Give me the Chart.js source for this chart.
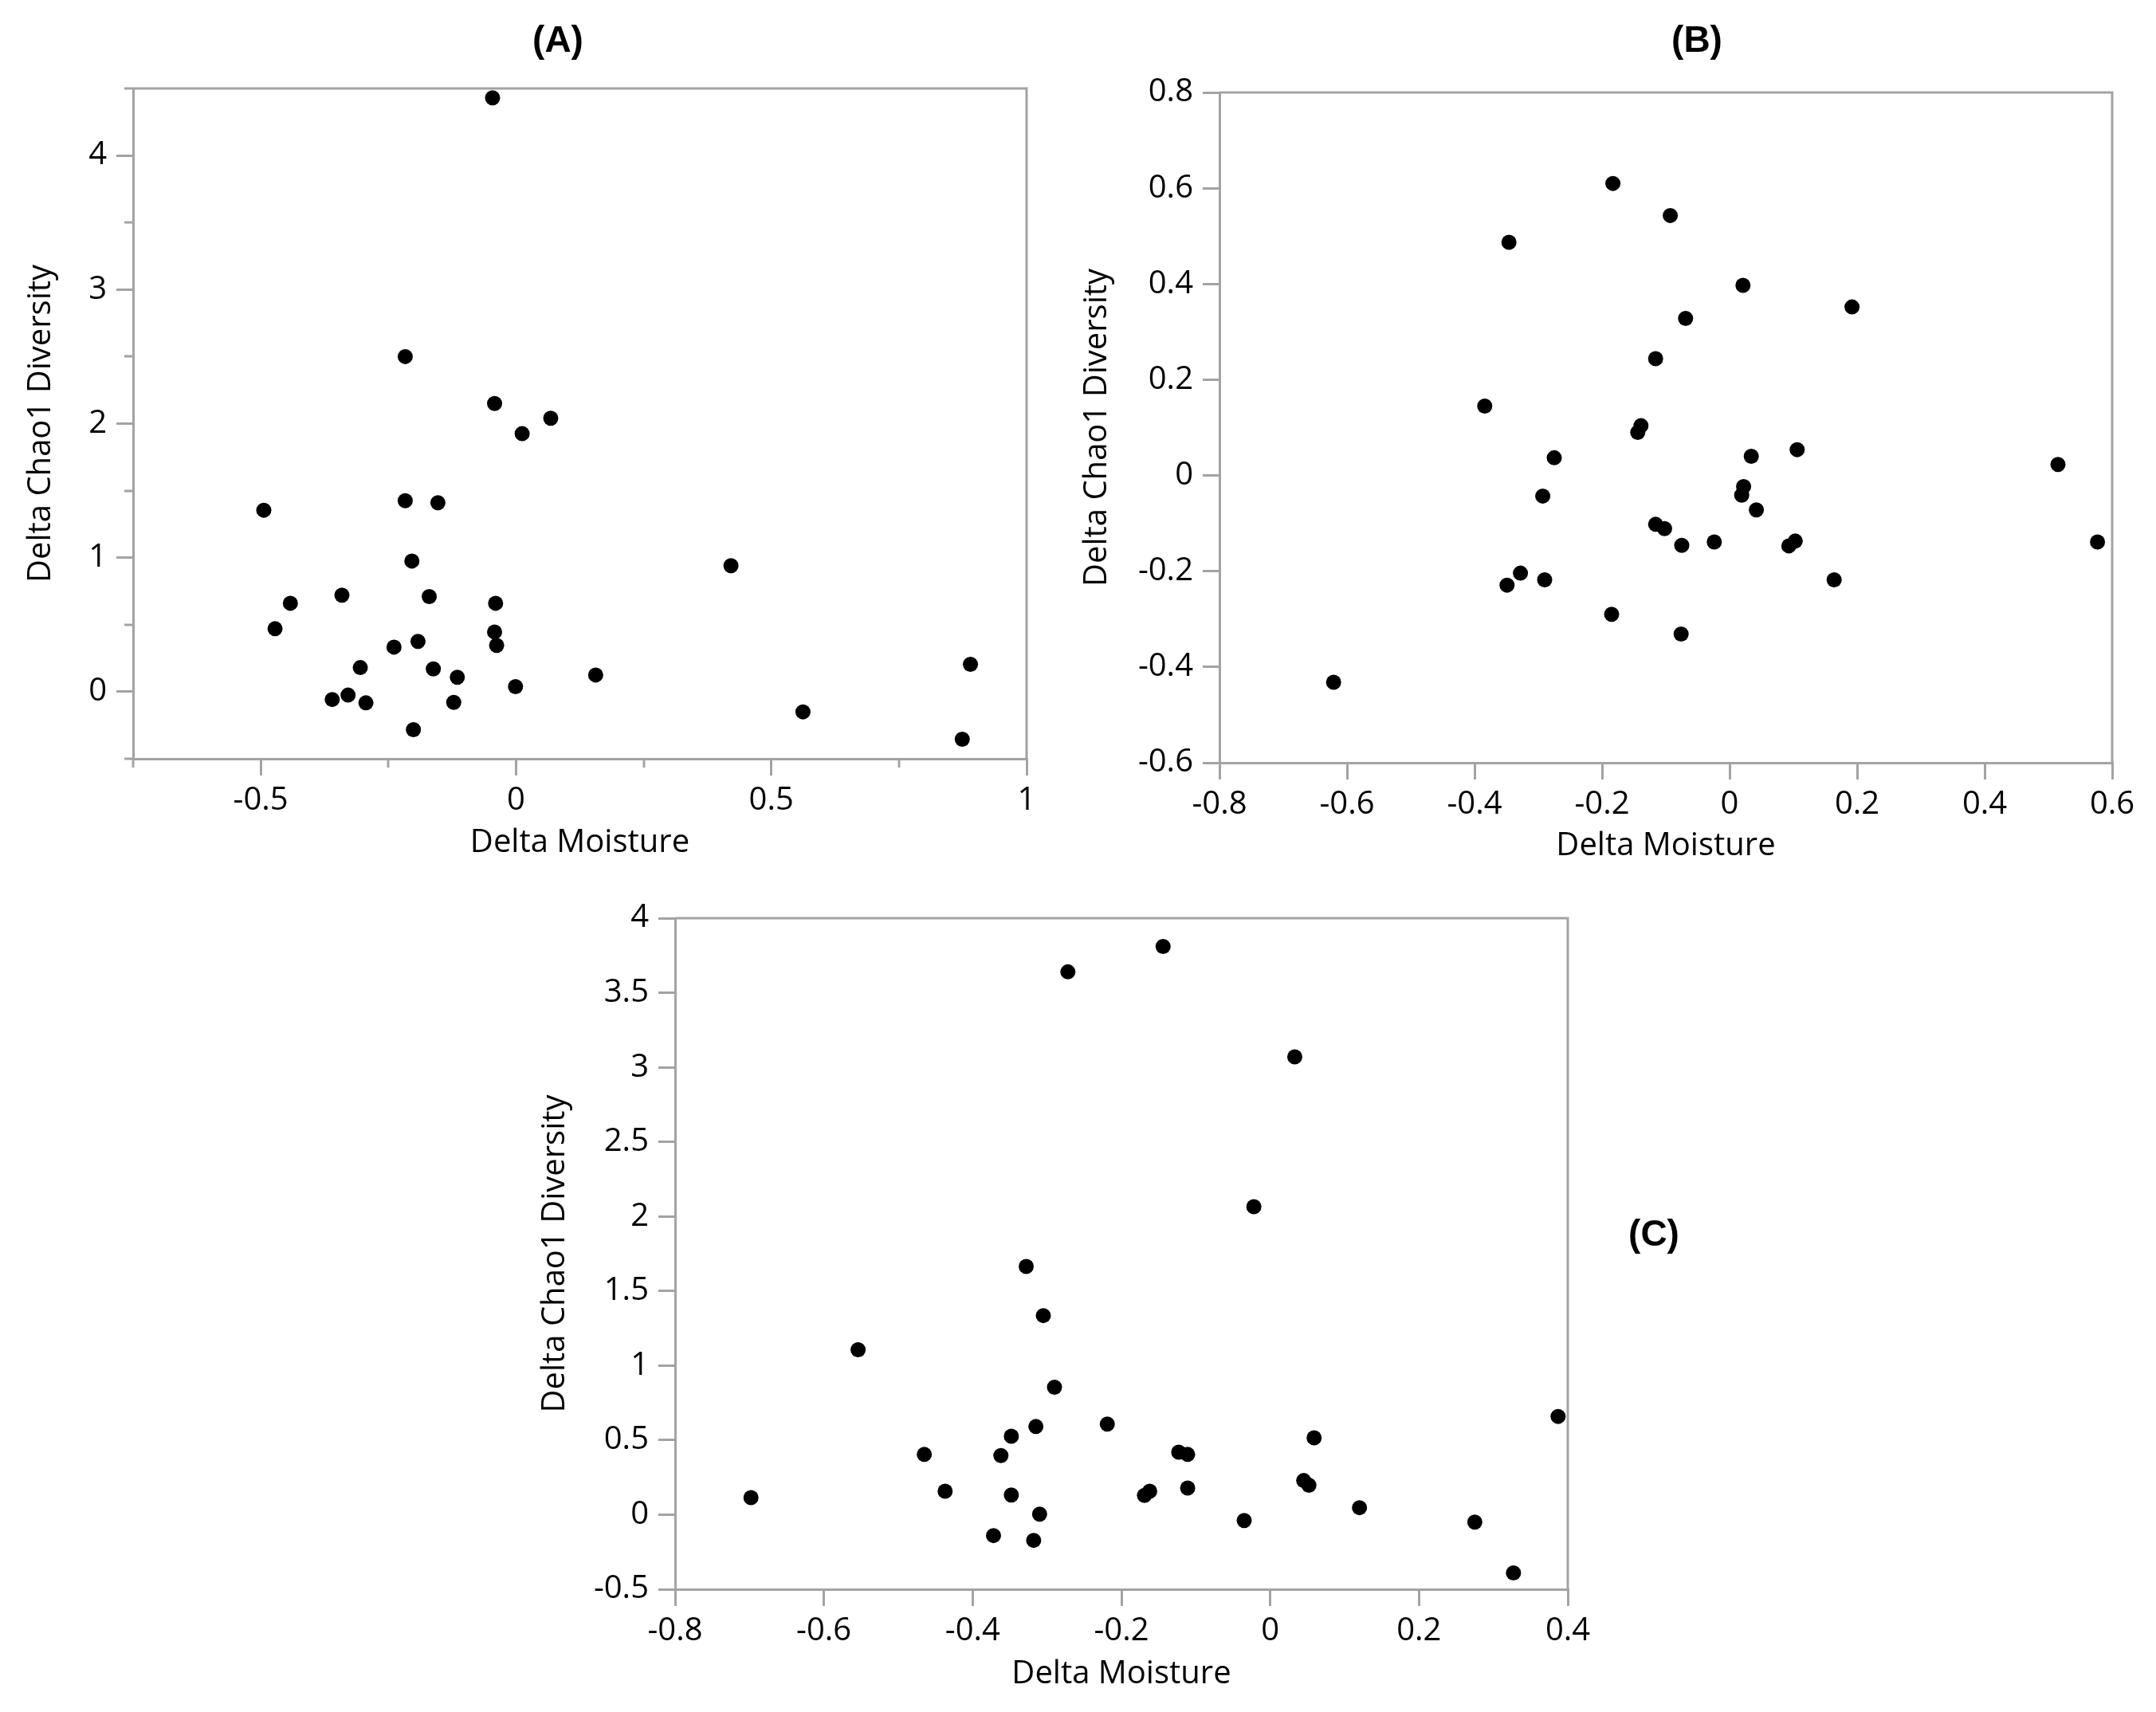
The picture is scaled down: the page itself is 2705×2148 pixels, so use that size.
<!DOCTYPE html>
<html>
<head>
<meta charset="utf-8">
<script src="https://cdn.jsdelivr.net/npm/chart.js@4.4.1/dist/chart.umd.min.js"></script>
<style>
  html, body { margin: 0; padding: 0; background: #fff; overflow: hidden; }
  #page { position: relative; width: 2705px; height: 2148px; }
  .panel { position: absolute; }
</style>
</head>
<body>
<div id="page">
  <canvas id="chartA" class="panel" style="left:0px;top:0px"></canvas>
  <canvas id="chartB" class="panel" style="left:1350px;top:0px"></canvas>
  <canvas id="chartC" class="panel" style="left:650px;top:1100px"></canvas>
</div>
<script>
// ---- data ----
const aMoisture = [-0.046, -0.217, -0.042, 0.068, 0.012, -0.494, -0.217, -0.153, -0.204, 0.421, -0.341, -0.170, -0.442, -0.040, -0.472, -0.042, -0.192, -0.038, -0.239, -0.305, -0.162, -0.115, 0.156, -0.001, -0.360, -0.329, -0.294, -0.122, -0.201, 0.562, 0.890, 0.874];
const aChao1 = [4.43, 2.50, 2.15, 2.04, 1.925, 1.354, 1.425, 1.41, 0.975, 0.94, 0.72, 0.71, 0.66, 0.66, 0.47, 0.446, 0.375, 0.346, 0.333, 0.18, 0.17, 0.108, 0.125, 0.0375, -0.058, -0.025, -0.083, -0.079, -0.283, -0.15, 0.204, -0.354];

const bMoisture = [-0.183, -0.093, -0.346, 0.021, 0.192, -0.069, -0.116, -0.384, -0.139, -0.144, -0.275, 0.106, 0.034, 0.515, 0.022, 0.019, -0.293, 0.042, -0.116, -0.102, -0.075, -0.024, 0.093, 0.103, 0.577, -0.328, -0.349, -0.290, 0.164, -0.185, -0.076, -0.621];
const bChao1 = [0.610, 0.543, 0.487, 0.397, 0.352, 0.328, 0.244, 0.145, 0.104, 0.090, 0.037, 0.054, 0.040, 0.023, -0.023, -0.041, -0.043, -0.072, -0.102, -0.111, -0.146, -0.139, -0.147, -0.137, -0.139, -0.204, -0.229, -0.218, -0.218, -0.290, -0.331, -0.432];

const cMoisture = [-0.144, -0.272, 0.033, -0.022, -0.328, -0.305, -0.554, -0.290, 0.387, -0.315, -0.219, -0.348, 0.059, -0.465, -0.362, -0.123, -0.111, -0.437, -0.348, -0.169, -0.162, -0.111, 0.045, 0.052, -0.698, -0.310, 0.120, -0.035, 0.275, -0.372, -0.318, 0.327];
const cChao1 = [3.81, 3.64, 3.07, 2.065, 1.664, 1.335, 1.106, 0.855, 0.659, 0.591, 0.608, 0.526, 0.515, 0.404, 0.397, 0.419, 0.404, 0.157, 0.132, 0.129, 0.157, 0.179, 0.229, 0.197, 0.115, 0.004, 0.047, -0.039, -0.050, -0.140, -0.172, -0.390];

// tick values
const aXTicks = [-0.5, 0, 0.5, 1];
const aXMinor = [-0.75, -0.25, 0.25, 0.75];
const aYTicks = [0, 1, 2, 3, 4];
const aYMinor = [-0.5, 0.5, 1.5, 2.5, 3.5, 4.5];
const bXTicks = [-0.8, -0.6, -0.4, -0.2, 0, 0.2, 0.4, 0.6];
const bYTicks = [-0.6, -0.4, -0.2, 0, 0.2, 0.4, 0.6, 0.8];
const cXTicks = [-0.8, -0.6, -0.4, -0.2, 0, 0.2, 0.4];
const cYTicks = [-0.5, 0, 0.5, 1, 1.5, 2, 2.5, 3, 3.5, 4];

const xTitle = 'Delta Moisture';
const yTitle = 'Delta Chao1 Diversity';

const axisGray = '#a3a3a3';
const fontFamily = '"Open Sans", "Noto Sans", sans-serif';

// short unlabeled ticks between the labeled ones
const minorTicks = {
    id: 'minorTicks',
    afterDraw(chart, args, opts) {
        const ctx = chart.ctx;
        const area = chart.chartArea;
        const len = opts.length || 11;
        ctx.save();
        ctx.strokeStyle = axisGray;
        ctx.lineWidth = 3;
        ctx.beginPath();
        (opts.x || []).forEach(v => {
            const px = Math.round(chart.scales.x.getPixelForValue(v));
            ctx.moveTo(px, area.bottom);
            ctx.lineTo(px, area.bottom + len);
        });
        (opts.y || []).forEach(v => {
            const py = Math.round(chart.scales.y.getPixelForValue(v));
            ctx.moveTo(area.left, py);
            ctx.lineTo(area.left - len, py);
        });
        ctx.stroke();
        ctx.restore();
    }
};

// top and right sides of the box
const frame = {
    id: 'frame',
    beforeDatasetsDraw(chart) {
        const ctx = chart.ctx;
        const a = chart.chartArea;
        ctx.save();
        ctx.strokeStyle = axisGray;
        ctx.lineWidth = 3;
        ctx.beginPath();
        ctx.moveTo(a.left, a.top);
        ctx.lineTo(a.right, a.top);
        ctx.lineTo(a.right, a.bottom);
        ctx.stroke();
        ctx.restore();
    }
};

// the (A) / (B) / (C) label
const panelLabel = {
    id: 'panelLabel',
    afterDraw(chart, args, opts) {
        if (!opts.text) return;
        const ctx = chart.ctx;
        ctx.save();
        ctx.font = 'bold 46px "Liberation Sans", Arial, sans-serif';
        ctx.fillStyle = '#000';
        ctx.textAlign = 'center';
        ctx.textBaseline = 'middle';
        ctx.fillText(opts.text, opts.x, opts.y);
        ctx.restore();
    }
};

function fmt(v) {
    return Number(v.toFixed(2)).toString();
}

function makeAxis(ticks, min, max, size, isX, titlePad) {
    return {
        type: 'linear',
        min: min,
        max: max,
        afterBuildTicks: scale => { scale.ticks = ticks.map(v => ({ value: v })); },
        afterFit: scale => {
            if (isX) scale.height = size; else scale.width = size;
        },
        border: { display: true, color: axisGray, width: 3 },
        grid: {
            drawOnChartArea: false,
            drawTicks: true,
            tickLength: 21,
            tickColor: axisGray,
            tickWidth: 3,
            lineWidth: 3,
            color: axisGray
        },
        ticks: {
            color: '#000',
            padding: isX ? 8 : 12,
            maxRotation: 0,
            autoSkip: false,
            font: { family: fontFamily, size: 40 },
            callback: v => fmt(v)
        },
        title: {
            display: true,
            text: isX ? xTitle : yTitle,
            color: '#000',
            font: { family: fontFamily, size: 40 },
            padding: isX ? { top: 0, bottom: titlePad } : { top: titlePad, bottom: 0 }
        }
    };
}

function renderPanel(canvasId, xs, ys, p) {
    const canvas = document.getElementById(canvasId);
    canvas.width = p.width;
    canvas.height = p.height;
    canvas.style.width = p.width + 'px';
    canvas.style.height = p.height + 'px';

    const points = xs.map((x, i) => ({ x: x, y: ys[i] }));

    return new Chart(canvas.getContext('2d'), {
        type: 'scatter',
        data: {
            datasets: [{
                data: points,
                backgroundColor: '#000',
                borderWidth: 0,
                pointRadius: 9.5,
                clip: false
            }]
        },
        options: {
            responsive: false,
            animation: false,
            devicePixelRatio: 1,
            layout: { padding: p.padding },
            plugins: {
                legend: { display: false },
                tooltip: { enabled: false },
                minorTicks: { x: p.xMinor, y: p.yMinor, length: 11 },
                panelLabel: p.label
            },
            scales: {
                x: makeAxis(p.xTicks, p.xMin, p.xMax, p.xHeight, true, p.xTitlePad),
                y: makeAxis(p.yTicks, p.yMin, p.yMax, p.yWidth, false, p.yTitlePad)
            }
        },
        plugins: [frame, minorTicks, panelLabel]
    });
}

renderPanel('chartA', aMoisture, aChao1, {
    width: 1350, height: 1110,
    padding: { left: 0, top: 111, right: 62, bottom: 0 },
    xMin: -0.75, xMax: 1, yMin: -0.5, yMax: 4.5,
    xTicks: aXTicks, yTicks: aYTicks, xMinor: aXMinor, yMinor: aYMinor,
    xHeight: 158, yWidth: 167, xTitlePad: 28, yTitlePad: 28,
    label: { text: '(A)', x: 700, y: 52 }
});

renderPanel('chartB', bMoisture, bChao1, {
    width: 1355, height: 1110,
    padding: { left: 0, top: 116, right: 55, bottom: 0 },
    xMin: -0.8, xMax: 0.6, yMin: -0.6, yMax: 0.8,
    xTicks: bXTicks, yTicks: bYTicks, xMinor: [], yMinor: [],
    xHeight: 153, yWidth: 180, xTitlePad: 24, yTitlePad: 3,
    label: { text: '(B)', x: 779, y: 52 }
});

renderPanel('chartC', cMoisture, cChao1, {
    width: 1500, height: 1048,
    padding: { left: 0, top: 52, right: 183, bottom: 0 },
    xMin: -0.8, xMax: 0.4, yMin: -0.5, yMax: 4,
    xTicks: cXTicks, yTicks: cYTicks, xMinor: [], yMinor: [],
    xHeight: 154, yWidth: 197, xTitlePad: 23, yTitlePad: 23,
    label: { text: '(C)', x: 1425, y: 450 }
});
</script>
</body>
</html>
